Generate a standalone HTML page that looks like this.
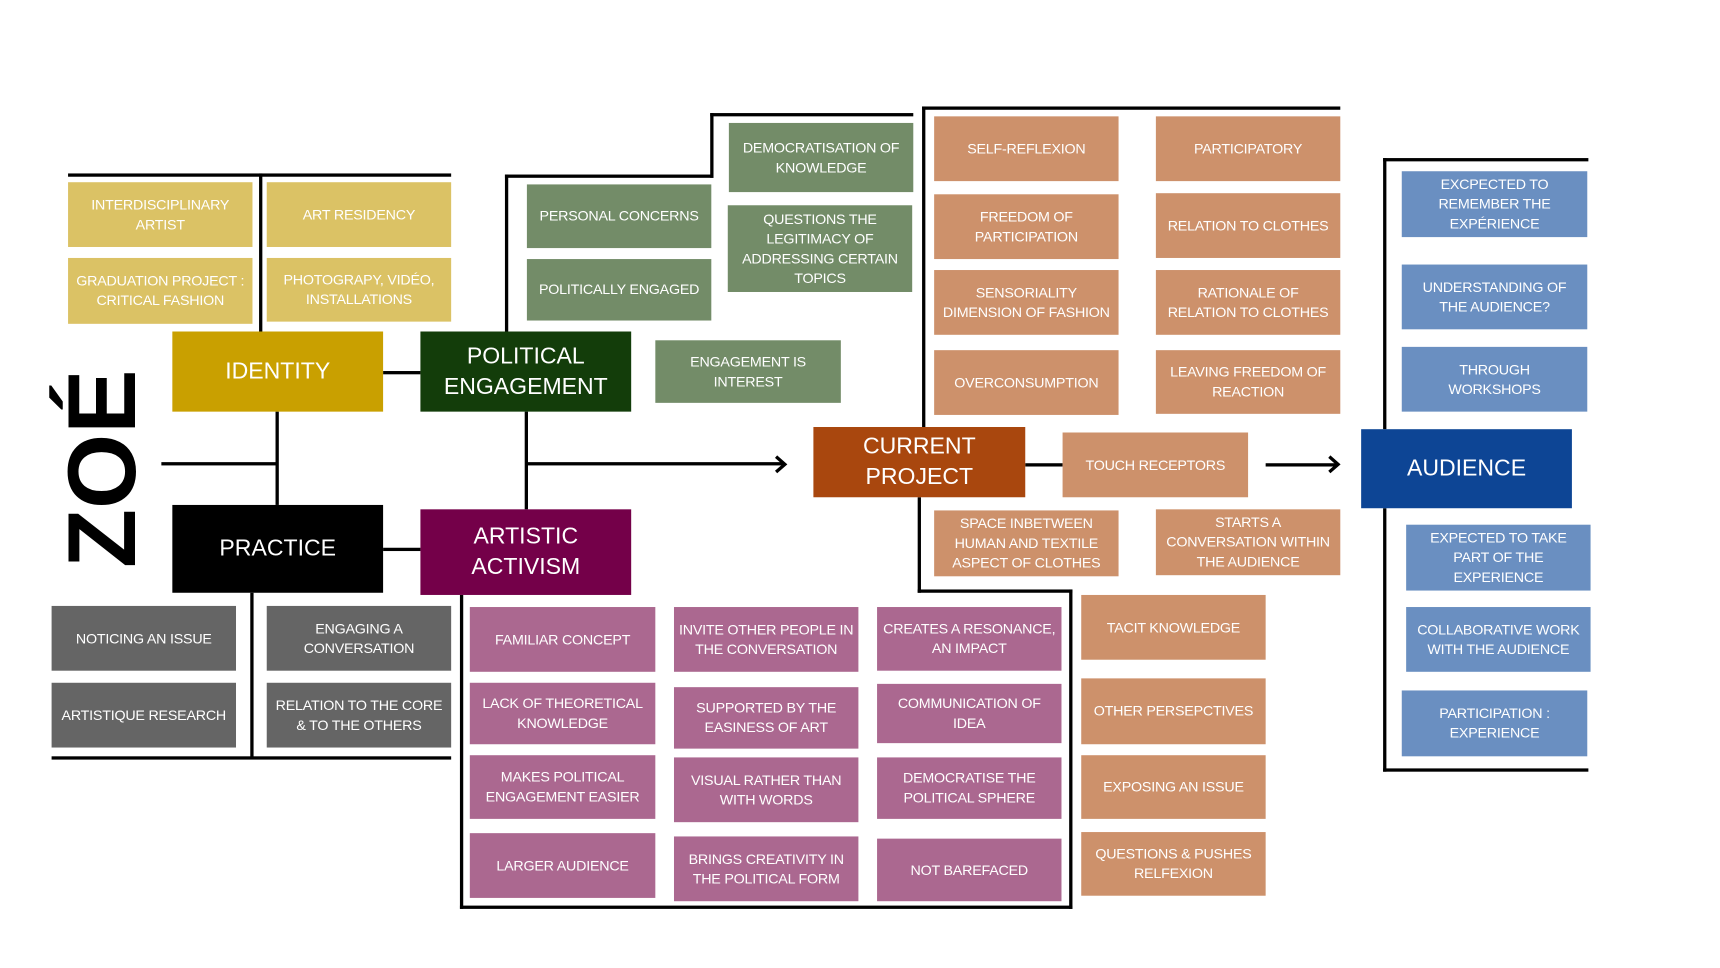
<!DOCTYPE html>
<html><head><meta charset="utf-8"><style>
html,body{margin:0;padding:0;background:#fff;width:1720px;height:968px;overflow:hidden}
#c{position:absolute;left:0;top:0;width:1567px;height:882px;transform:scale(1.0977);transform-origin:0 0;font-family:"Liberation Sans",sans-serif}
.b{position:absolute;display:flex;align-items:center;justify-content:center;text-align:center;color:#fff;font-size:13px;letter-spacing:-0.2px;line-height:18px;box-sizing:border-box;padding:0;white-space:nowrap}
.y{background:#dbc265}.g{background:#738c68}.o{background:#cd916b}.p{background:#ab6890}.k{background:#656565}.u{background:#6a8fc1}
.big{font-size:21px;line-height:28px;letter-spacing:0}
.h{position:absolute;background:#000;height:3px}
.v{position:absolute;background:#000;width:3px}
</style></head><body><div id="c">
<div class="h" style="left:62px;top:158px;width:349px"></div>
<div class="v" style="left:236px;top:158px;height:144px"></div>
<div class="h" style="left:349px;top:338px;width:34px"></div>
<div class="h" style="left:349px;top:499px;width:34px"></div>
<div class="v" style="left:251px;top:375px;height:85px"></div>
<div class="h" style="left:147px;top:421px;width:105px"></div>
<div class="v" style="left:478px;top:375px;height:89px"></div>
<div class="h" style="left:479px;top:421px;width:234px"></div>
<svg style="position:absolute;left:704px;top:414px" width="14" height="18"><path d="M3 2 L11 9 L3 16" fill="none" stroke="#000" stroke-width="3"/></svg>
<div class="v" style="left:460px;top:159px;height:143px"></div>
<div class="h" style="left:460px;top:159px;width:190px"></div>
<div class="v" style="left:647px;top:103px;height:59px"></div>
<div class="h" style="left:647px;top:103px;width:185px"></div>
<div class="v" style="left:840px;top:97px;height:292px"></div>
<div class="h" style="left:840px;top:97px;width:381px"></div>
<div class="h" style="left:934px;top:422px;width:34px"></div>
<div class="h" style="left:1153px;top:422px;width:64px"></div>
<svg style="position:absolute;left:1208px;top:414px" width="14" height="18"><path d="M3 2 L11 9 L3 16" fill="none" stroke="#000" stroke-width="3"/></svg>
<div class="v" style="left:836px;top:453px;height:87px"></div>
<div class="h" style="left:836px;top:537px;width:141px"></div>
<div class="v" style="left:974px;top:537px;height:291px"></div>
<div class="h" style="left:419px;top:825px;width:558px"></div>
<div class="v" style="left:419px;top:542px;height:286px"></div>
<div class="v" style="left:228px;top:540px;height:151px"></div>
<div class="h" style="left:47px;top:689px;width:364px"></div>
<div class="v" style="left:1260px;top:144px;height:247px"></div>
<div class="h" style="left:1260px;top:144px;width:187px"></div>
<div class="v" style="left:1260px;top:463px;height:240px"></div>
<div class="h" style="left:1260px;top:700px;width:187px"></div>
<div style="position:absolute;left:93px;top:427px;transform:translate(-50%,-50%) rotate(-90deg);font-size:88px;font-weight:bold;color:#000;white-space:nowrap;line-height:1">ZOÉ</div>
<div class="b big" style="left:157px;top:302px;width:192px;height:73px;background:#c9a000">IDENTITY</div>
<div class="b big" style="left:383px;top:302px;width:192px;height:73px;background:#133d0a">POLITICAL<br>ENGAGEMENT</div>
<div class="b big" style="left:157px;top:460px;width:192px;height:80px;background:#000">PRACTICE</div>
<div class="b big" style="left:383px;top:464px;width:192px;height:78px;background:#740049">ARTISTIC<br>ACTIVISM</div>
<div class="b big" style="left:741px;top:389px;width:193px;height:64px;background:#a9470e">CURRENT<br>PROJECT</div>
<div class="b big" style="left:1240px;top:391px;width:192px;height:72px;background:#0d4595">AUDIENCE</div>
<div class="b y" style="left:62px;top:166px;width:168px;height:59px">INTERDISCIPLINARY<br>ARTIST</div>
<div class="b y" style="left:243px;top:166px;width:168px;height:59px">ART RESIDENCY</div>
<div class="b y" style="left:62px;top:235px;width:168px;height:60px">GRADUATION PROJECT :<br>CRITICAL FASHION</div>
<div class="b y" style="left:243px;top:235px;width:168px;height:58px">PHOTOGRAPY, VIDÉO,<br>INSTALLATIONS</div>
<div class="b g" style="left:480px;top:168px;width:168px;height:58px">PERSONAL CONCERNS</div>
<div class="b g" style="left:480px;top:236px;width:168px;height:56px">POLITICALLY ENGAGED</div>
<div class="b g" style="left:664px;top:112px;width:168px;height:63px">DEMOCRATISATION OF<br>KNOWLEDGE</div>
<div class="b g" style="left:663px;top:187px;width:168px;height:79px">QUESTIONS THE<br>LEGITIMACY OF<br>ADDRESSING CERTAIN<br>TOPICS</div>
<div class="b g" style="left:597px;top:310px;width:169px;height:57px">ENGAGEMENT IS<br>INTEREST</div>
<div class="b o" style="left:851px;top:106px;width:168px;height:59px">SELF-REFLEXION</div>
<div class="b o" style="left:1053px;top:106px;width:168px;height:59px">PARTICIPATORY</div>
<div class="b o" style="left:851px;top:177px;width:168px;height:59px">FREEDOM OF<br>PARTICIPATION</div>
<div class="b o" style="left:1053px;top:176px;width:168px;height:59px">RELATION TO CLOTHES</div>
<div class="b o" style="left:851px;top:246px;width:168px;height:59px">SENSORIALITY<br>DIMENSION OF FASHION</div>
<div class="b o" style="left:1053px;top:246px;width:168px;height:59px">RATIONALE OF<br>RELATION TO CLOTHES</div>
<div class="b o" style="left:851px;top:319px;width:168px;height:59px">OVERCONSUMPTION</div>
<div class="b o" style="left:1053px;top:319px;width:168px;height:58px">LEAVING FREEDOM OF<br>REACTION</div>
<div class="b o" style="left:968px;top:394px;width:169px;height:59px">TOUCH RECEPTORS</div>
<div class="b o" style="left:851px;top:465px;width:168px;height:60px">SPACE INBETWEEN<br>HUMAN AND TEXTILE<br>ASPECT OF CLOTHES</div>
<div class="b o" style="left:1053px;top:464px;width:168px;height:60px">STARTS A<br>CONVERSATION WITHIN<br>THE AUDIENCE</div>
<div class="b o" style="left:985px;top:542px;width:168px;height:59px">TACIT KNOWLEDGE</div>
<div class="b o" style="left:985px;top:618px;width:168px;height:60px">OTHER PERSEPCTIVES</div>
<div class="b o" style="left:985px;top:688px;width:168px;height:58px">EXPOSING AN ISSUE</div>
<div class="b o" style="left:985px;top:758px;width:168px;height:58px">QUESTIONS &amp; PUSHES<br>RELFEXION</div>
<div class="b p" style="left:428px;top:553px;width:169px;height:59px">FAMILIAR CONCEPT</div>
<div class="b p" style="left:428px;top:622px;width:169px;height:56px">LACK OF THEORETICAL<br>KNOWLEDGE</div>
<div class="b p" style="left:428px;top:688px;width:169px;height:58px">MAKES POLITICAL<br>ENGAGEMENT EASIER</div>
<div class="b p" style="left:428px;top:759px;width:169px;height:59px">LARGER AUDIENCE</div>
<div class="b p" style="left:614px;top:553px;width:168px;height:59px">INVITE OTHER PEOPLE IN<br>THE CONVERSATION</div>
<div class="b p" style="left:614px;top:626px;width:168px;height:56px">SUPPORTED BY THE<br>EASINESS OF ART</div>
<div class="b p" style="left:614px;top:690px;width:168px;height:59px">VISUAL RATHER THAN<br>WITH WORDS</div>
<div class="b p" style="left:614px;top:762px;width:168px;height:59px">BRINGS CREATIVITY IN<br>THE POLITICAL FORM</div>
<div class="b p" style="left:799px;top:553px;width:168px;height:58px">CREATES A RESONANCE,<br>AN IMPACT</div>
<div class="b p" style="left:799px;top:623px;width:168px;height:54px">COMMUNICATION OF<br>IDEA</div>
<div class="b p" style="left:799px;top:690px;width:168px;height:56px">DEMOCRATISE THE<br>POLITICAL SPHERE</div>
<div class="b p" style="left:799px;top:764px;width:168px;height:57px">NOT BAREFACED</div>
<div class="b k" style="left:47px;top:552px;width:168px;height:59px">NOTICING AN ISSUE</div>
<div class="b k" style="left:243px;top:552px;width:168px;height:59px">ENGAGING A<br>CONVERSATION</div>
<div class="b k" style="left:47px;top:622px;width:168px;height:59px">ARTISTIQUE RESEARCH</div>
<div class="b k" style="left:243px;top:622px;width:168px;height:59px">RELATION TO THE CORE<br>&amp; TO THE OTHERS</div>
<div class="b u" style="left:1277px;top:156px;width:169px;height:60px">EXCPECTED TO<br>REMEMBER THE<br>EXPÉRIENCE</div>
<div class="b u" style="left:1277px;top:241px;width:169px;height:59px">UNDERSTANDING OF<br>THE AUDIENCE?</div>
<div class="b u" style="left:1277px;top:316px;width:169px;height:59px">THROUGH<br>WORKSHOPS</div>
<div class="b u" style="left:1281px;top:478px;width:168px;height:60px">EXPECTED TO TAKE<br>PART OF THE<br>EXPERIENCE</div>
<div class="b u" style="left:1281px;top:553px;width:168px;height:59px">COLLABORATIVE WORK<br>WITH THE AUDIENCE</div>
<div class="b u" style="left:1277px;top:629px;width:169px;height:60px">PARTICIPATION :<br>EXPERIENCE</div>
</div></body></html>
